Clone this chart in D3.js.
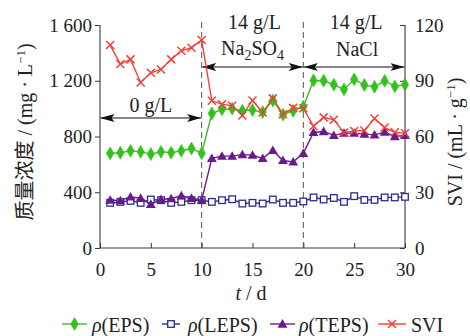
<!DOCTYPE html>
<html><head><meta charset="utf-8">
<script src="https://cdn.jsdelivr.net/npm/d3@7"></script>
<style>
html,body{margin:0;padding:0;background:#fff;}
svg{display:block;}
text{font-family:"Liberation Serif","Times New Roman",serif;fill:#222;}
</style></head>
<body><svg id="c" width="470" height="336"></svg>
<script>
const days = [1,2,3,4,5,6,7,8,9,10,11,12,13,14,15,16,17,18,19,20,21,22,23,24,25,26,27,28,29,30];
const eps  = [679,683,697,690,674,690,683,697,714,679, 965,995,1000,985,990,975,1058,957,985,1013, 1202,1200,1172,1138,1210,1169,1157,1199,1160,1172];
const leps = [324,331,338,324,348,343,324,331,343,343, 331,343,350,319,324,319,348,324,324,334, 363,348,359,331,372,345,345,363,363,367];
const teps = [343,340,367,357,314,348,355,375,357,343, 643,659,659,670,666,643,700,628,618,679, 829,836,808,824,824,817,812,831,800,808];
const svi  = [109.2,99,101.5,89.1,94.3,96.1,101.5,106.1,107.8,111.9, 79.2,77.4,76.5,71.3,79.4,72.9,80.5,72,75.4,75.2, 65.5,70.3,69,62.1,63,63.2,69.7,64.8,62.3,61.7];
const xTicks = [0,5,10,15,20,25,30];
const yTicks = [0,400,800,1200,1600];
const y2Ticks = [0,30,60,90,120];
const leftLabels = ["0","400","800","1 200","1 600"];
const stages = [
  {from:0, to:10, l1:"0 g/L", l2:""},
  {from:10, to:20, l1:"14 g/L", l2:"Na2SO4"},
  {from:20, to:30, l1:"14 g/L", l2:"NaCl"}
];
const seriesNames = ["ρ(EPS)","ρ(LEPS)","ρ(TEPS)","SVI"];

const svg = d3.select("#c");
const x = d3.scaleLinear().domain([0,30]).range([100,405]);
const y = d3.scaleLinear().domain([0,1600]).range([248,25]);
const y2 = d3.scaleLinear().domain([0,120]).range([248,25]);

const C = {eps:"#33c21c", leps:"#2c2c8e", teps:"#6a1a8c", svi:"#f2403a"};
const axisCol = "#3a3a3a";
const FS = "19px";

// defs arrow markers
const defs = svg.append("defs");
defs.append("marker").attr("id","ah").attr("viewBox","0 0 14 8").attr("refX",14).attr("refY",4)
  .attr("markerWidth",14).attr("markerHeight",8).attr("markerUnits","userSpaceOnUse").attr("orient","auto-start-reverse")
  .append("path").attr("d","M0,0 L14,4 L0,8 L3,4 Z").attr("fill","#111");

// axes
const gx = svg.append("g").attr("transform","translate(0,248)")
  .call(d3.axisBottom(x).tickValues(xTicks).tickSize(-5).tickPadding(10).tickFormat(d3.format("d")));
const gy = svg.append("g").attr("transform","translate(100,0)")
  .call(d3.axisLeft(y).tickValues(yTicks).tickSize(5).tickPadding(3).tickFormat((d,i)=>leftLabels[i]));
const gy2 = svg.append("g").attr("transform","translate(405,0)")
  .call(d3.axisRight(y2).tickValues(y2Ticks).tickSize(-5).tickPadding(10).tickFormat(d3.format("d")));
[gx,gy,gy2].forEach(g=>{
  g.select(".domain").attr("stroke",axisCol).attr("stroke-width",1.1);
  g.selectAll(".tick line").attr("stroke",axisCol);
  g.selectAll(".tick text").style("font-size",FS).style("font-family",'"Liberation Serif",serif').attr("fill","#222");
});
gy.selectAll(".domain").attr("d","M0,248V25");
gy2.selectAll(".domain").attr("d","M0,248V25");
gx.selectAll(".domain").attr("d","M100,0H405");
gx.selectAll(".tick text").attr("dy","0.95em");

// dashed separators
[10,20].forEach(v=>{
  svg.append("line").attr("x1",x(v)).attr("x2",x(v)).attr("y1",22).attr("y2",248)
    .attr("stroke","#555").attr("stroke-width",1).attr("stroke-dasharray","6,4");
});

// stage annotations
const arrowY = [118,67,67];
const lab1Y = [112,29,29];
stages.forEach((s,i)=>{
  const xm = (x(s.from)+x(s.to))/2;
  svg.append("line").attr("x1",x(s.from)+0.5).attr("x2",x(s.to)-0.5).attr("y1",arrowY[i]).attr("y2",arrowY[i])
    .attr("stroke","#111").attr("stroke-width",1.1)
    .attr("marker-start","url(#ah)").attr("marker-end","url(#ah)");
  svg.append("text").attr("x",xm+ (i===0?0:2)).attr("y",lab1Y[i]).attr("text-anchor","middle").style("font-size","20px").text(s.l1);
  if (s.l2==="Na2SO4"){
    const t = svg.append("text").attr("x",xm).attr("y",55).attr("text-anchor","middle").style("font-size","20px");
    t.append("tspan").text("Na");
    t.append("tspan").attr("dy",5).style("font-size","14px").text("2");
    t.append("tspan").attr("dy",-5).text("SO");
    t.append("tspan").attr("dy",5).style("font-size","14px").text("4");
  } else if (s.l2){
    svg.append("text").attr("x",xm+3).attr("y",56).attr("text-anchor","middle").style("font-size","20px").text(s.l2);
  }
});

// lines
const mk = (ys)=> d3.line().x((d,i)=>x(days[i])).y(d=>ys(d));
function drawSeries(vals, ys, col){
  svg.append("path").datum(vals).attr("d",mk(ys)).attr("fill","none").attr("stroke",col).attr("stroke-width",1.4);
}
drawSeries(eps,y,C.eps);
drawSeries(leps,y,C.leps);
drawSeries(teps,y,C.teps);
drawSeries(svi,y2,C.svi);

// markers
const diamond = d3.symbol().type(d3.symbolDiamond).size(48);
const tri = d3.symbol().type(d3.symbolTriangle).size(42);
function markDiamond(g,cx,cy,col){ g.append("path").attr("d",diamond()).attr("transform",`translate(${cx},${cy})`).attr("fill",col).attr("stroke",col).attr("stroke-width",0.6); }
function markSquare(g,cx,cy,col){ g.append("rect").attr("x",cx-3.3).attr("y",cy-3.3).attr("width",6.6).attr("height",6.6).attr("fill","#fff").attr("stroke",col).attr("stroke-width",1.3); }
function markTri(g,cx,cy,col){ g.append("path").attr("d",tri()).attr("transform",`translate(${cx},${cy+0.8})`).attr("fill",col); }
function markX(g,cx,cy,col){ g.append("path").attr("d",`M${cx-4},${cy-4}L${cx+4},${cy+4}M${cx-4},${cy+4}L${cx+4},${cy-4}`).attr("stroke",col).attr("stroke-width",1.5).attr("fill","none"); }

const gm = svg.append("g");
eps.forEach((v,i)=>markDiamond(gm,x(days[i]),y(v),C.eps));
leps.forEach((v,i)=>markSquare(gm,x(days[i]),y(v),C.leps));
teps.forEach((v,i)=>markTri(gm,x(days[i]),y(v),C.teps));
svi.forEach((v,i)=>markX(gm,x(days[i]),y2(v),C.svi));

// axis titles
const lt = svg.append("text").attr("transform","translate(32,132) rotate(-90)").attr("text-anchor","middle").style("font-size","20px");
lt.append("tspan").style("font-family",'"Noto Sans CJK SC",sans-serif').style("font-size","20px").text("质量浓度");
lt.append("tspan").text(" / (mg · L");
lt.append("tspan").attr("dy",-7).style("font-size","13px").text("−1");
lt.append("tspan").attr("dy",7).text(")");

const rt = svg.append("text").attr("transform","translate(462,142) rotate(-90)").attr("text-anchor","middle").style("font-size","20px");
rt.append("tspan").text("SVI / (mL · g");
rt.append("tspan").attr("dy",-7).style("font-size","13px").text("−1");
rt.append("tspan").attr("dy",7).text(")");

const xt = svg.append("text").attr("x",251).attr("y",300).attr("text-anchor","middle").style("font-size","20px");
xt.append("tspan").style("font-style","italic").text("t");
xt.append("tspan").text(" / d");

// legend
const legItems = [
  {name:seriesNames[0], col:C.eps, x1:62, x2:87, tx:92, m:markDiamond},
  {name:seriesNames[1], col:C.leps, x1:162, x2:180, tx:188, m:markSquare},
  {name:seriesNames[2], col:C.teps, x1:270, x2:295, tx:299, m:markTri},
  {name:seriesNames[3], col:C.svi, x1:378, x2:406, tx:411, m:markX}
];
const lg = svg.append("g");
legItems.forEach(it=>{
  const ly = 324;
  lg.append("line").attr("x1",it.x1).attr("x2",it.x2).attr("y1",ly).attr("y2",ly).attr("stroke",it.col).attr("stroke-width",1.4);
  it.m(lg,(it.x1+it.x2)/2,ly,it.col);
  const t = lg.append("text").attr("x",it.tx).attr("y",ly+8).style("font-size","20px");
  if (it.name.startsWith("ρ")){
    t.append("tspan").style("font-style","italic").text("ρ");
    t.append("tspan").text(it.name.slice(1));
  } else t.text(it.name);
});
</script></body></html>
